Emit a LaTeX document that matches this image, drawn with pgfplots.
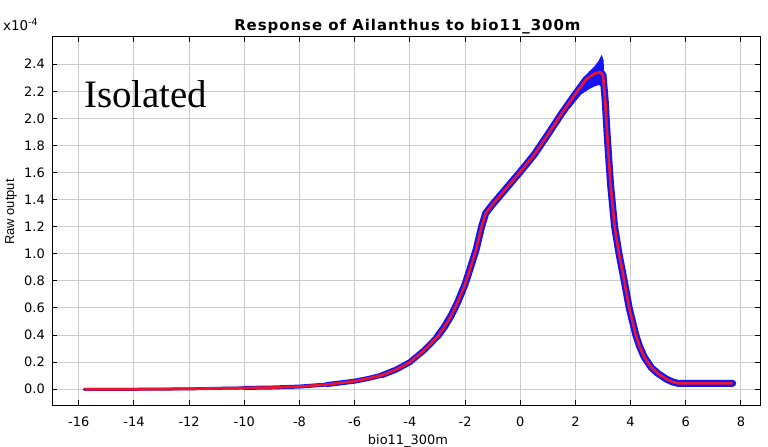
\documentclass[border=0pt]{standalone}
\usepackage{pgfplots}
\pgfplotsset{compat=1.18}
\usepackage{pgfplotstable}
\usepackage{fontspec}
\setmainfont{DejaVu Sans}
\newfontfamily\labelfont{Liberation Sans}
\newfontfamily\titlefont[LetterSpace=6.5]{DejaVu Sans}
\newfontfamily\notefont{Liberation Serif}

\definecolor{gridgray}{RGB}{204,204,204}
\definecolor{bandblue}{RGB}{20,20,245}
\definecolor{meanred}{RGB}{240,20,40}

% mean response (x in degrees, y in units of 1e-4)
\pgfplotstableread{
x y
-15.8 0.000
-14.0 0.000
-12.0 0.003
-11.0 0.007
-10.0 0.010
-9.0 0.013
-8.0 0.020
-7.0 0.035
-6.0 0.060
-5.5 0.080
-5.0 0.105
-4.5 0.145
-4.0 0.200
-3.5 0.285
-3.25 0.335
-3.0 0.390
-2.75 0.460
-2.5 0.545
-2.25 0.650
-2.0 0.775
-1.8 0.900
-1.6 1.030
-1.4 1.200
-1.25 1.300
-1.0 1.365
-0.5 1.485
0.0 1.605
0.5 1.730
1.0 1.880
1.5 2.035
2.0 2.180
2.4 2.290
2.7 2.330
2.9 2.340
3.0 2.320
3.08 2.130
3.15 1.880
3.27 1.520
3.42 1.200
3.58 1.000
3.77 0.800
3.95 0.600
4.19 0.400
4.32 0.320
4.49 0.240
4.75 0.160
4.98 0.118
5.15 0.095
5.3 0.075
5.5 0.056
5.71 0.044
7.7 0.044
}\meanresp

\begin{document}
\begin{tikzpicture}
\useasboundingbox (-52bp,-42bp) rectangle (716bp,405bp);
\begin{axis}[
  scale only axis,
  width=708bp, height=368bp,
  xmin=-16.97, xmax=8.69,
  ymin=-0.116, ymax=2.6,
  xtick={-16,-14,-12,-10,-8,-6,-4,-2,0,2,4,6,8},
  ytick={0,0.2,0.4,0.6,0.8,1.0,1.2,1.4,1.6,1.8,2.0,2.2,2.4},
  grid=major,
  major grid style={draw=gridgray, line width=1bp},
  axis line style={black, line width=1bp},
  tick style={black, line width=1bp},
  major tick length=5bp,
  tick align=inside,
  /pgf/number format/assume math mode=true,
  xticklabel style={font=\fontsize{13}{15}\selectfont, inner sep=0pt, anchor=north, yshift=-12bp},
  yticklabel style={font=\fontsize{13}{15}\selectfont, inner sep=0pt, anchor=east, xshift=-7bp,
    /pgf/number format/.cd, fixed, fixed zerofill, precision=1},
  clip mode=individual,
  band/.style={bandblue, line cap=round, line join=round},
]
% spread of the replicate runs, widening along the gradient
\addplot[band, line width=3bp, restrict x to domain=-15.8:-10] table[x=x,y=y] {\meanresp};
\addplot[band, line width=4bp, restrict x to domain=-10:-7] table[x=x,y=y] {\meanresp};
\addplot[band, line width=5bp, restrict x to domain=-7:-5] table[x=x,y=y] {\meanresp};
\addplot[band, line width=6bp, restrict x to domain=-5:-3] table[x=x,y=y] {\meanresp};
\addplot[band, line width=7bp, restrict x to domain=-3:8] table[x=x,y=y] {\meanresp};
\addplot[fill=bandblue, draw=bandblue, line width=1bp] coordinates {
  (1.8,2.14) (2.2,2.27) (2.5,2.34) (2.7,2.38) (2.85,2.42) (2.95,2.46) (3.0,2.43) (3.05,2.25) (3.1,2.05)
  (3.1,2.00) (3.05,2.10) (3.0,2.20) (2.95,2.24) (2.85,2.25) (2.7,2.24) (2.5,2.22) (2.2,2.18) (1.8,2.08)
} -- cycle;
% mean response
\addplot[meanred, line width=2.6bp, line join=round] table[x=x,y=y] {\meanresp};

\node[anchor=base, font=\titlefont\bfseries\fontsize{15}{18}\selectfont] at (rel axis cs:0.502,0) [yshift=374bp] {Response of Ailanthus to bio11\_300m};
\node[anchor=base west, inner sep=0pt, font=\fontsize{13.5}{15}\selectfont] at (rel axis cs:0,0) [xshift=-49bp, yshift=374bp] {x10\textsuperscript{-4}};
\node[anchor=base, inner sep=0pt, font=\fontsize{13}{15}\selectfont] at (rel axis cs:0,0) [xshift=356bp, yshift=-39bp] {bio11\_300m};
\node[xshift=-41bp, yshift=193bp, rotate=90, inner sep=0pt, font=\labelfont\fontsize{13}{15}\selectfont] at (rel axis cs:0,0) {Raw output};
\node[anchor=base west, inner sep=0pt, font=\notefont\fontsize{39}{44}\selectfont] at (rel axis cs:0,0) [xshift=32bp, yshift=297bp] {Isolated};
\end{axis}
\end{tikzpicture}
\end{document}
